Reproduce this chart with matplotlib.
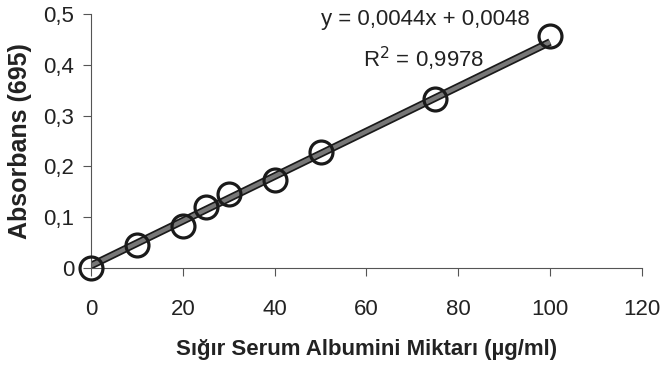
import numpy as np
import matplotlib
matplotlib.use('Agg')
import matplotlib.pyplot as plt
import matplotlib.patheffects as pe

plt.rcParams['font.family'] = ['Liberation Sans', 'DejaVu Sans']

# data
conc = [0, 10, 20, 25, 30, 40, 50, 75, 100]
absorb = [0.0, 0.046, 0.082, 0.12, 0.146, 0.174, 0.228, 0.332, 0.456]
slope = 0.0044
intercept = 0.0048
r2_text = '0,9978'
x_ticks = [0, 20, 40, 60, 80, 100, 120]
y_ticks = [0, 0.1, 0.2, 0.3, 0.4, 0.5]
y_tick_labels = ['0', '0,1', '0,2', '0,3', '0,4', '0,5']

fig = plt.figure(figsize=(6.61, 3.71), dpi=100)
ax = fig.add_axes([0.1377, 0.2776, 0.8333, 0.6846])

fit_x = np.array([0, 100])
fit_y = slope * fit_x + intercept
ax.plot(fit_x, fit_y, color='#777777', lw=3, solid_capstyle='butt', zorder=2,
        path_effects=[pe.Stroke(linewidth=5.5, foreground='#1a1a1a'), pe.Normal()])

ax.plot(conc, absorb, 'o', ms=16.5, mfc='none', mec='#1a1a1a', mew=2.3,
        clip_on=False, zorder=3)

ax.set_xlim(0, 120)
ax.set_ylim(0, 0.5)
ax.set_xticks(x_ticks)
ax.set_yticks(y_ticks)
ax.set_yticklabels(y_tick_labels)

for s in ['top', 'right']:
    ax.spines[s].set_visible(False)
for s in ['left', 'bottom']:
    ax.spines[s].set_color('#555555')
    ax.spines[s].set_linewidth(0.8)

ax.tick_params(axis='both', direction='out', length=6, width=0.8, color='#555555',
               labelsize=16, labelcolor='#222222')
ax.tick_params(axis='x', pad=16)
ax.tick_params(axis='y', pad=6)

ax.set_xlabel('Sığır Serum Albumini Miktarı (µg/ml)', fontsize=16, fontweight='bold',
              color='#222222', labelpad=14)
ax.set_ylabel('Absorbans (695)', fontsize=18, fontweight='bold', color='#222222',
              labelpad=8)

ax.text(72.9, 0.49, 'y = 0,0044x + 0,0048', fontsize=16, color='#222222',
        ha='center', va='center')
ax.text(72.4, 0.412, 'R$^2$ = ' + r2_text, fontsize=16, color='#222222',
        ha='center', va='center')

plt.savefig('out.png', dpi=100)
